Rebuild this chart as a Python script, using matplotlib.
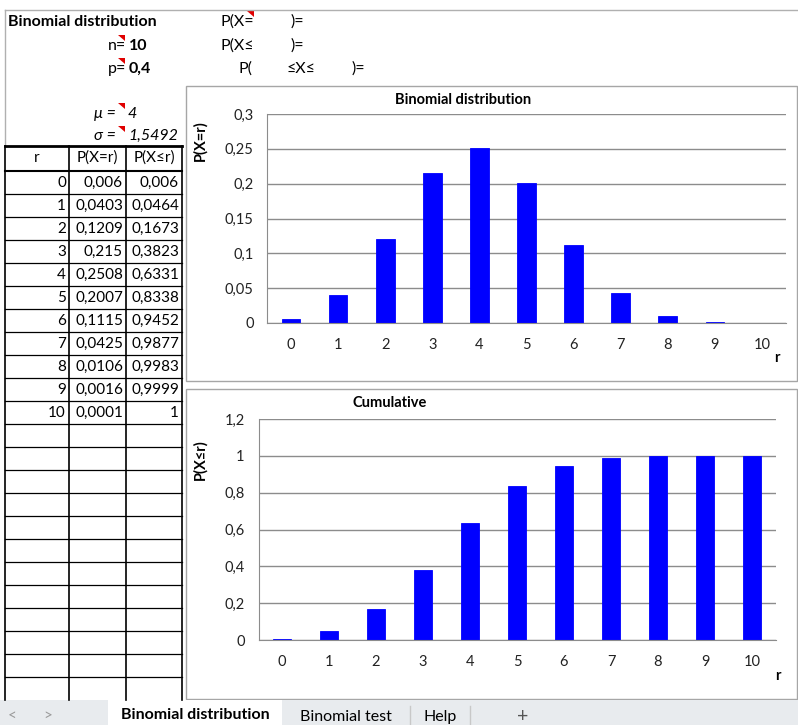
import matplotlib
matplotlib.use("Agg")
import matplotlib.pyplot as plt
from matplotlib.patches import Rectangle, Polygon
from matplotlib.ticker import FuncFormatter

plt.rcParams['font.family'] = ['Lato', 'DejaVu Sans']

# spreadsheet data
n_trials = 10
p_success = 0.4
mu = 4
sigma = 1.5492
r_values = [0, 1, 2, 3, 4, 5, 6, 7, 8, 9, 10]
pmf = [0.006, 0.0403, 0.1209, 0.215, 0.2508, 0.2007, 0.1115, 0.0425, 0.0106, 0.0016, 0.0001]
cdf = [0.006, 0.0464, 0.1673, 0.3823, 0.6331, 0.8338, 0.9452, 0.9877, 0.9983, 0.9999, 1]
sheet_tabs = ["Binomial distribution", "Binomial test", "Help"]

W, H = 798, 725
BLUE = '#0000ff'
GRID = '#8c8c8c'


def comma(v):
    return f"{v:g}".replace('.', ',')


fig = plt.figure(figsize=(W / 100, H / 100), dpi=100)

# background axes in pixel coordinates for the sheet itself
bg = fig.add_axes([0, 0, 1, 1])
bg.set_xlim(0, W)
bg.set_ylim(H, 0)
bg.axis('off')

# sheet frame
bg.plot([5, W], [10, 10], color='#b0b0b0', lw=1)
bg.plot([5, 5], [10, 146], color='#b0b0b0', lw=1)

# header cells
fs = 11.5
bg.text(8, 22, "Binomial distribution", fontsize=fs, fontweight='bold', va='center')
bg.text(126, 46, "n=", fontsize=fs, ha='right', va='center')
bg.text(129, 46, str(n_trials), fontsize=fs, fontweight='bold', va='center')
bg.text(126, 69, "p=", fontsize=fs, ha='right', va='center')
bg.text(129, 69, comma(p_success), fontsize=fs, fontweight='bold', va='center')
bg.text(220, 22, "P(X=", fontsize=fs, va='center')
bg.text(291, 22, ")=", fontsize=fs, va='center')
bg.text(220, 46, "P(X≤", fontsize=fs, va='center')
bg.text(291, 46, ")=", fontsize=fs, va='center')
bg.text(238, 69, "P(", fontsize=fs, va='center')
bg.text(287, 69, "≤X≤", fontsize=fs, va='center')
bg.text(352, 69, ")=", fontsize=fs, va='center')
bg.text(116, 114, "μ =", fontsize=fs, style='italic', ha='right', va='center')
bg.text(128, 114, comma(mu), fontsize=fs, style='italic', va='center')
bg.text(116, 136, "σ =", fontsize=fs, style='italic', ha='right', va='center')
bg.text(128, 136, comma(sigma), fontsize=fs, style='italic', va='center')

# comment markers
for cx, cy in [(125, 35), (125, 58), (125, 103), (125, 126), (254, 11)]:
    bg.add_patch(Polygon([(cx - 7, cy), (cx, cy), (cx, cy + 6)],
                         closed=True, color='#e00000', lw=0))

# table
cols = [5, 69, 126, 182]
row_h = 23
top = 146
head_bot = 171
bottom = 700
bg.plot([cols[0], cols[-1]], [top, top], color='black', lw=2)
bg.plot([cols[0], cols[-1]], [head_bot, head_bot], color='black', lw=1.5)
for x in cols:
    bg.plot([x, x], [top, bottom], color='black', lw=1.2)
y = head_bot + row_h
while y < bottom:
    bg.plot([cols[0], cols[-1]], [y, y], color='black', lw=0.9)
    y += row_h

tfs = 11
bg.text(37, 158, "r", fontsize=tfs, ha='center', va='center')
bg.text(97.5, 158, "P(X=r)", fontsize=tfs, ha='center', va='center')
bg.text(154, 158, "P(X≤r)", fontsize=tfs, ha='center', va='center')
for i, (r, a, c) in enumerate(zip(r_values, pmf, cdf)):
    yc = head_bot + row_h * i + row_h / 2
    bg.text(cols[1] - 3, yc, str(r), fontsize=tfs, ha='right', va='center')
    bg.text(cols[2] - 3, yc, comma(a), fontsize=tfs, ha='right', va='center')
    bg.text(cols[3] - 3, yc, comma(c), fontsize=tfs, ha='right', va='center')

# chart frames
bg.add_patch(Rectangle((186, 86), 611, 295, fill=False, ec='#a6a6a6', lw=1))
bg.add_patch(Rectangle((186, 389), 611, 310, fill=False, ec='#a6a6a6', lw=1))

# tab bar
bg.add_patch(Rectangle((0, 700), W, 25, color='#e8ebee', lw=0))
bg.add_patch(Rectangle((108, 700), 174, 25, color='white', lw=0))
bg.text(12, 716, "<", fontsize=11, color='#9a9a9a', ha='center', va='center')
bg.text(48, 716, ">", fontsize=11, color='#9a9a9a', ha='center', va='center')
bg.text(195, 715, sheet_tabs[0], fontsize=11.5, fontweight='bold', ha='center', va='center')
bg.text(346, 717, sheet_tabs[1], fontsize=11.5, ha='center', va='center')
bg.text(440, 717, sheet_tabs[2], fontsize=11.5, ha='center', va='center')
bg.text(523, 716, "+", fontsize=14, color='#555555', ha='center', va='center')
for sx in [410, 470]:
    bg.plot([sx, sx], [706, 725], color='#c8c8c8', lw=1)


def chart(left, right, ytop, ybot, values, ymax, ystep, title, tx, ty, ylab, ylab_y, rlab):
    ax = fig.add_axes([left / W, 1 - ybot / H, (right - left) / W, (ybot - ytop) / H])
    ax.bar(r_values, values, width=0.4, color=BLUE, edgecolor=BLUE, lw=0.6)
    ax.set_xlim(-0.5, 10.5)
    ax.set_ylim(0, ymax)
    ticks = [round(k * ystep, 3) for k in range(int(round(ymax / ystep)) + 1)]
    ax.set_yticks(ticks)
    ax.set_xticks(r_values)
    ax.yaxis.set_major_formatter(FuncFormatter(lambda v, _: comma(round(v, 3))))
    ax.grid(axis='y', color=GRID, lw=1)
    ax.set_axisbelow(True)
    for s in ['top', 'right']:
        ax.spines[s].set_visible(False)
    for s in ['left', 'bottom']:
        ax.spines[s].set_color(GRID)
    ax.tick_params(axis='both', length=0, labelsize=10.5, colors='#222222')
    ax.tick_params(axis='x', pad=11)
    ax.tick_params(axis='y', pad=10)
    ax.patch.set_alpha(0)
    bg.text(tx, ty, title, fontsize=10.5, fontweight='bold', ha='center', va='center')
    bg.text(200, ylab_y, ylab, fontsize=10.5, fontweight='bold', rotation=90,
            ha='center', va='center')
    bg.text(rlab[0], rlab[1], "r", fontsize=10.5, fontweight='bold', ha='center', va='center')
    return ax


chart(267.4, 785.6, 114, 323, pmf, 0.3, 0.05, "Binomial distribution", 463, 100,
      "P(X=r)", 141, (777, 358))
chart(258.5, 775.5, 419, 640, cdf, 1.2, 0.2, "Cumulative", 390, 403,
      "P(X≤r)", 460, (778, 676))

fig.savefig("out.png", dpi=100)
